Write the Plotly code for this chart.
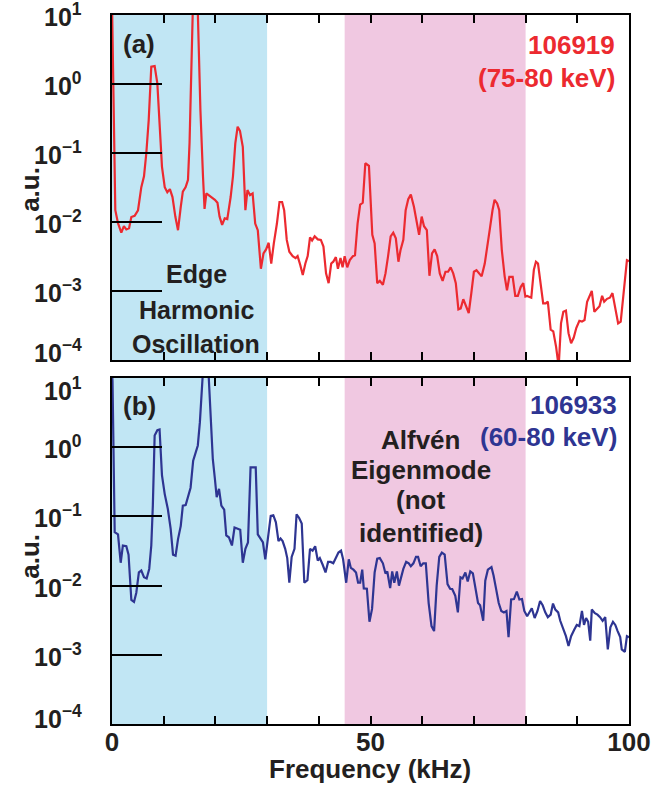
import math
import plotly.graph_objects as go

# Spectrum of shot 106919 (75-80 keV channel)
freq_a = [0.0, 0.64, 1.16, 1.8, 2.3, 2.77, 3.3, 3.74, 4.38, 5.03, 5.67, 6.19, 6.64, 7.1, 7.6, 8.25,
          8.77, 9.2, 9.67, 10.2, 10.7, 11.2, 11.7, 12.25, 12.77, 13.3, 13.7, 14.25, 14.7, 15.0, 15.3,
          15.8, 16.4, 17.1, 17.6, 17.9, 18.25, 19.2, 19.9, 20.4, 20.8, 21.3, 21.8, 22.3, 22.95, 23.4,
          23.85, 24.3, 24.75, 25.3, 25.8, 26.2, 26.7, 27.2, 27.7, 28.2, 28.8, 29.3, 29.8, 30.3, 30.8,
          31.3, 31.9, 32.4, 32.9, 33.3, 33.8, 34.3, 34.95, 35.5, 35.9, 36.4, 36.9, 37.4, 37.85, 38.3,
          38.7, 39.2, 39.8, 40.4, 40.9, 41.4, 41.9, 42.4, 42.8, 43.3, 43.7, 44.2, 44.6, 45.0, 45.5,
          46.0, 46.6, 47.0, 47.5, 48.0, 48.5, 49.0, 49.7, 50.35, 50.8, 51.3, 51.8, 52.4, 52.9, 53.4,
          53.9, 54.4, 54.9, 55.4, 55.8, 56.35, 56.8, 57.3, 57.8, 58.4, 58.9, 59.4, 59.9, 60.35, 60.9,
          61.4, 61.9, 62.4, 62.9, 63.4, 63.95, 64.5, 65.0, 65.5, 66.0, 66.5, 67.0, 67.45, 67.95, 68.5,
          69.0, 69.5, 70.0, 70.5, 71.05, 71.5, 72.1, 72.6, 73.1, 73.6, 74.0, 74.5, 74.9, 75.4, 75.95,
          76.4, 76.85, 77.5, 78.0, 78.5, 79.05, 79.55, 79.95, 80.3, 80.7, 81.1, 81.6, 82.0, 82.4,
          82.85, 83.4, 83.9, 84.3, 84.85, 85.35, 85.9, 86.4, 86.85, 87.3, 87.8, 88.3, 88.8, 89.3,
          89.8, 90.4, 90.9, 91.4, 91.9, 92.4, 92.8, 93.3, 93.75, 94.3, 94.8, 95.2, 95.75, 96.3, 96.8,
          97.35, 97.9, 98.4, 98.9, 99.3, 99.6, 100.0]
amp_a = [15, 0.0148, 0.0096, 0.0070, 0.0087, 0.0078, 0.0081, 0.0118, 0.0123, 0.0148, 0.032, 0.046,
         0.10, 0.30, 1.78, 1.82, 1.02, 0.21, 0.063, 0.032, 0.027, 0.030, 0.023, 0.012, 0.0076, 0.0166,
         0.0275, 0.032, 0.041, 0.14, 1.3, 40, 40, 0.42, 0.046, 0.0155, 0.026, 0.023, 0.021, 0.019,
         0.012, 0.0091, 0.0113, 0.011, 0.023, 0.046, 0.138, 0.24, 0.21, 0.123, 0.0148, 0.029, 0.0245,
         0.026, 0.0095, 0.0076, 0.0021, 0.0035, 0.0040, 0.0050, 0.0025, 0.0049, 0.0095, 0.0195,
         0.0195, 0.0148, 0.0055, 0.0037, 0.0032, 0.0030, 0.0032, 0.0024, 0.0017, 0.0025, 0.0032,
         0.0060, 0.0054, 0.0062, 0.0056, 0.0055, 0.0044, 0.0018, 0.0013, 0.0025, 0.00266, 0.0031,
         0.0021, 0.0030, 0.0022, 0.0032, 0.0022, 0.0028, 0.0032, 0.0033, 0.0095, 0.0178, 0.019,
         0.071, 0.065, 0.0065, 0.0049, 0.0013, 0.0014, 0.00123, 0.0018, 0.0032, 0.0062, 0.0070,
         0.0058, 0.00266, 0.0039, 0.0055, 0.0148, 0.0214, 0.025, 0.0166, 0.0107, 0.0065, 0.012,
         0.0087, 0.0076, 0.00166, 0.0035, 0.0040, 0.0032, 0.0018, 0.0014, 0.0019, 0.0019, 0.0022,
         0.0018, 0.0013, 0.00054, 0.00056, 0.00076, 0.00058, 0.00048, 0.00093, 0.0019, 0.0020,
         0.0018, 0.00163, 0.0025, 0.0049, 0.0081, 0.0148, 0.021, 0.0186, 0.0148, 0.0039, 0.00163,
         0.00102, 0.0016, 0.0016, 0.00085, 0.00085, 0.00114, 0.0013, 0.00083, 0.00085, 0.00083,
         0.0008, 0.00204, 0.00266, 0.0025, 0.0013, 0.00066, 0.00066, 0.0007, 0.000276, 0.00026,
         0.000155, 0.00008, 0.00034, 0.0005, 0.00052, 0.000245, 0.000175, 0.00021, 0.00029, 0.00037,
         0.00036, 0.00038, 0.0007, 0.00085, 0.0010, 0.0005, 0.00055, 0.0006, 0.00085, 0.0007,
         0.00077, 0.0008, 0.00093, 0.00055, 0.00034, 0.00036, 0.00093, 0.0020, 0.0028, 0.0027]

# Spectrum of shot 106933 (60-80 keV channel)
freq_b = [0.0, 0.1, 0.52, 1.16, 1.68, 2.1, 2.77, 3.2, 3.74, 4.26, 4.7, 5.2, 5.67, 6.19, 6.7, 7.2, 7.6,
          7.9, 8.25, 8.77, 9.2, 9.67, 10.2, 10.8, 11.35, 11.8, 12.3, 12.77, 13.3, 13.7, 14.25, 14.7,
          15.2, 15.7, 16.1, 16.6, 17.0, 17.4, 17.9, 18.4, 19.1, 19.5, 19.9, 20.25, 20.7, 21.15, 21.7,
          22.1, 22.6, 23.2, 23.7, 24.2, 24.8, 25.3, 25.8, 26.3, 26.8, 27.3, 27.8, 28.2, 28.8, 29.2,
          29.65, 30.2, 30.7, 31.2, 31.7, 32.2, 32.6, 33.0, 33.5, 33.9, 34.3, 34.75, 35.3, 35.7, 36.2,
          36.7, 37.2, 37.8, 38.3, 38.8, 39.3, 39.8, 40.2, 40.75, 41.3, 41.8, 42.3, 42.8, 43.3, 43.8,
          44.3, 44.7, 45.3, 45.8, 46.2, 46.7, 47.2, 47.6, 48.0, 48.4, 48.7, 49.3, 49.8, 50.3, 50.8,
          51.3, 51.8, 52.4, 52.9, 53.25, 53.8, 54.2, 54.6, 55.1, 55.5, 55.95, 56.35, 56.9, 57.4, 57.8,
          58.3, 58.8, 59.2, 59.7, 60.2, 60.7, 61.25, 61.8, 62.3, 62.8, 63.3, 63.8, 64.35, 64.9, 65.4,
          65.8, 66.4, 66.9, 67.4, 67.8, 68.35, 68.8, 69.3, 69.8, 70.3, 70.8, 71.2, 71.8, 72.2, 72.7,
          73.4, 73.8, 74.3, 74.8, 75.3, 75.8, 76.3, 76.7, 77.2, 77.75, 78.3, 78.8, 79.3, 79.75, 80.3,
          80.8, 81.2, 81.75, 82.3, 82.8, 83.3, 83.8, 84.3, 84.85, 85.3, 85.75, 86.3, 86.7, 87.2, 87.8,
          88.3, 88.8, 89.4, 89.9, 90.4, 90.9, 91.3, 91.7, 92.1, 92.5, 92.8, 93.4, 93.9, 94.4, 94.9,
          95.4, 95.9, 96.4, 96.9, 97.35, 97.8, 98.3, 98.6, 99.2, 99.6, 100.0]
amp_b = [12, 9, 0.059, 0.055, 0.0214, 0.038, 0.037, 0.028, 0.0062, 0.0058, 0.0079, 0.0155, 0.0165,
         0.0132, 0.0127, 0.0174, 0.038, 0.143, 1.48, 1.76, 1.8, 0.39, 0.21, 0.128, 0.066, 0.028,
         0.027, 0.047, 0.073, 0.143, 0.146, 0.20, 0.26, 0.64, 0.80, 1.06, 2.3, 6.3, 30, 30, 2.88,
         0.67, 0.35, 0.19, 0.25, 0.143, 0.125, 0.053, 0.050, 0.038, 0.069, 0.067, 0.064, 0.0214,
         0.034, 0.042, 0.51, 0.51, 0.51, 0.055, 0.046, 0.042, 0.024, 0.049, 0.102, 0.104, 0.082,
         0.044, 0.048, 0.044, 0.034, 0.025, 0.011, 0.026, 0.034, 0.107, 0.095, 0.079, 0.011, 0.012,
         0.034, 0.032, 0.037, 0.023, 0.025, 0.020, 0.0155, 0.022, 0.022, 0.021, 0.025, 0.030, 0.032,
         0.024, 0.011, 0.024, 0.018, 0.017, 0.0155, 0.011, 0.011, 0.017, 0.0091, 0.009, 0.0030,
         0.0046, 0.0155, 0.0245, 0.025, 0.021, 0.015, 0.016, 0.0092, 0.016, 0.011, 0.016, 0.010,
         0.014, 0.0174, 0.022, 0.021, 0.019, 0.021, 0.026, 0.026, 0.019, 0.021, 0.021, 0.0056,
         0.0026, 0.0022, 0.010, 0.026, 0.030, 0.028, 0.0105, 0.009, 0.0089, 0.0071, 0.0041, 0.0132,
         0.0127, 0.0155, 0.0115, 0.016, 0.015, 0.0089, 0.0056, 0.0052, 0.0031, 0.0118, 0.017, 0.0185,
         0.014, 0.0089, 0.0056, 0.0043, 0.0041, 0.0043, 0.0018, 0.0063, 0.0064, 0.0082, 0.0063,
         0.0064, 0.0043, 0.0036, 0.0041, 0.0047, 0.0034, 0.0043, 0.0060, 0.0052, 0.0041, 0.0035,
         0.0038, 0.0055, 0.0045, 0.0041, 0.0031, 0.0025, 0.00186, 0.00134, 0.00186, 0.0023, 0.0027,
         0.0026, 0.0043, 0.0027, 0.0034, 0.0030, 0.0016, 0.0045, 0.0040, 0.0038, 0.0035, 0.0031,
         0.0035, 0.0012, 0.0025, 0.0030, 0.0027, 0.0022, 0.0018, 0.0012, 0.0011, 0.00186, 0.0018]

# Frequency bands of interest (kHz)
eho_band = [0, 30]
ae_band = [45, 80]

ytick_vals = [1e-4, 1e-3, 1e-2, 1e-1, 1e0, 1e1]
ytick_text = ["10<sup>−4</sup>", "10<sup>−3</sup>", "10<sup>−2</sup>",
              "10<sup>−1</sup>", "10<sup>0</sup>", "10<sup>1</sup>"]
xtick_vals = list(range(0, 101, 10))
xtick_text = [str(v) if v % 50 == 0 else "" for v in xtick_vals]

RED = "#ec2a30"
BLUE = "#2e3592"
INK = "#231f20"
SANS = "Liberation Sans, Arial, sans-serif"

fig = go.Figure()
fig.add_trace(go.Scatter(x=freq_a, y=amp_a, mode="lines", line=dict(color=RED, width=2.2),
                         xaxis="x", yaxis="y", showlegend=False))
fig.add_trace(go.Scatter(x=freq_b, y=amp_b, mode="lines", line=dict(color=BLUE, width=2.2),
                         xaxis="x2", yaxis="y2", showlegend=False))

# shaded frequency bands in both panels
for xref, yref in [("x", "y domain"), ("x2", "y2 domain")]:
    fig.add_shape(type="rect", xref=xref, yref=yref, x0=eho_band[0], x1=eho_band[1], y0=0, y1=1,
                  fillcolor="#c1e6f4", line_width=0, layer="below")
    fig.add_shape(type="rect", xref=xref, yref=yref, x0=ae_band[0], x1=ae_band[1], y0=0, y1=1,
                  fillcolor="#f0c8e1", line_width=0, layer="below")

xaxis_common = dict(range=[0, 100], tickvals=xtick_vals, ticks="inside", ticklen=8, tickwidth=2,
                    tickcolor="black", showline=True, linewidth=2, linecolor="black",
                    mirror="ticks", showgrid=False, zeroline=False, automargin=False,
                    ticklabelstandoff=-6,
                    tickfont=dict(family=SANS, size=26, color=INK, weight="bold"))
yaxis_common = dict(type="log", range=[-4, 1], tickvals=ytick_vals, showticklabels=False,
                    ticks="inside", ticklen=50, tickwidth=2, tickcolor="black",
                    showline=True, linewidth=2, linecolor="black", mirror=True,
                    showgrid=False, zeroline=False, automargin=False)

fig.update_layout(
    width=652, height=788,
    margin=dict(l=112, r=23, t=15, b=64),
    paper_bgcolor="white", plot_bgcolor="white",
    xaxis=dict(**xaxis_common, anchor="y", ticktext=[""] * len(xtick_vals)),
    yaxis=dict(**yaxis_common, domain=[0.5134, 1.0], anchor="x"),
    xaxis2=dict(**xaxis_common, anchor="y2", ticktext=xtick_text),
    yaxis2=dict(**yaxis_common, domain=[0.0, 0.488], anchor="x2"),
)

def label(text, x, y, xref, yref, color=INK, size=26, xanchor="center", angle=0, yshift=0):
    fig.add_annotation(text=text, x=x, y=y, xref=xref, yref=yref, showarrow=False,
                       xanchor=xanchor, yanchor="middle", textangle=angle, yshift=yshift,
                       font=dict(family=SANS, size=size, color=color, weight="bold"))

# decade labels on both log axes; the end labels are nudged inside the frame
edge_shift = {"y": {1e-4: 9, 1e1: 0}, "y2": {1e-4: 7, 1e1: -11}}
for yref in ["y", "y2"]:
    for val, txt in zip(ytick_vals, ytick_text):
        label(txt, -0.054, math.log10(val), "paper", yref, size=25, xanchor="right",
              yshift=edge_shift[yref].get(val, 0))

# panel (a)
label("(a)", 5.2, 0.916, "x", "y domain")
label("106919", 97.7, 0.913, "x", "y domain", color=RED, xanchor="right")
label("(75-80 keV)", 97.7, 0.817, "x", "y domain", color=RED, xanchor="right")
label("Edge", 16.3, 0.249, "x", "y domain", size=25)
label("Harmonic", 16.3, 0.146, "x", "y domain", size=25)
label("Oscillation", 16.3, 0.046, "x", "y domain", size=25)

# panel (b)
label("(b)", 5.3, 0.919, "x2", "y2 domain")
label("106933", 98.1, 0.922, "x2", "y2 domain", color=BLUE, xanchor="right")
label("(60-80 keV)", 98.1, 0.829, "x2", "y2 domain", color=BLUE, xanchor="right")
label("Alfvén", 59.7, 0.821, "x2", "y2 domain")
label("Eigenmode", 59.7, 0.734, "x2", "y2 domain")
label("(not", 59.7, 0.647, "x2", "y2 domain")
label("identified)", 59.7, 0.552, "x2", "y2 domain")

# axis titles
label("a.u.", -0.159, 0.7545, "paper", "paper", size=26, angle=-90)
label("a.u.", -0.159, 0.237, "paper", "paper", size=26, angle=-90)
label("Frequency (kHz)", 0.499, -0.064, "paper", "paper", size=26)

fig.write_html("out.html")
